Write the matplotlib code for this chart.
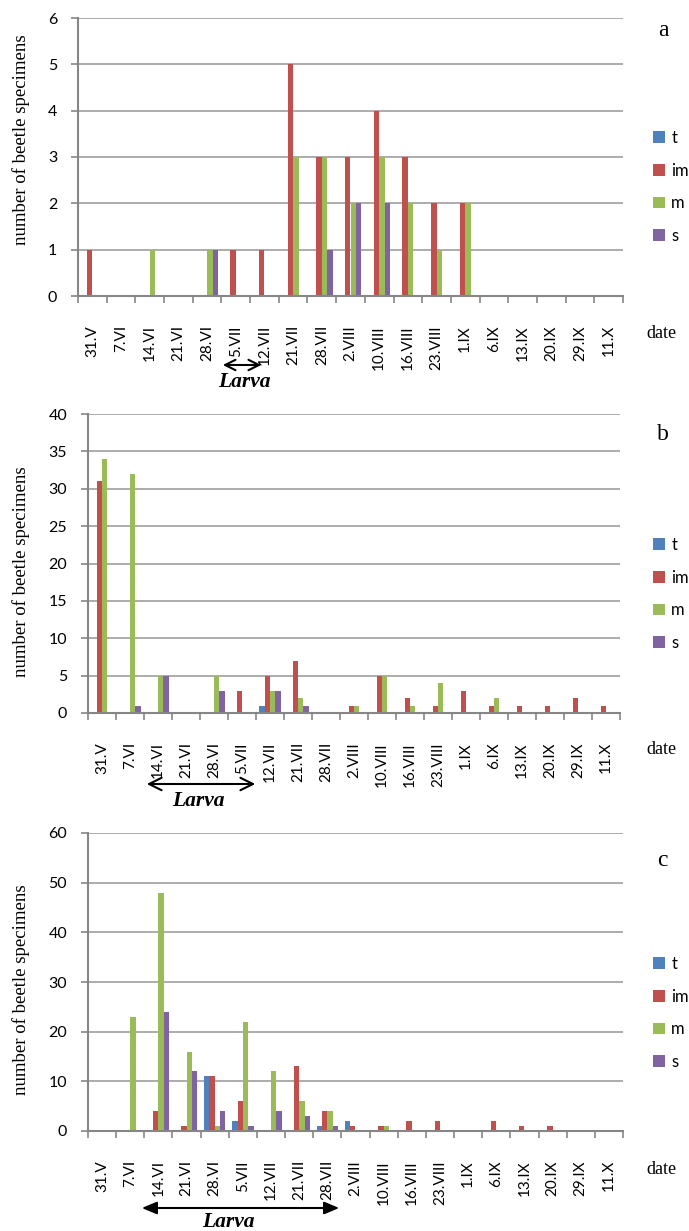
import matplotlib
matplotlib.use("Agg")
import matplotlib.pyplot as plt
import numpy as np

dates = ["31.V", "7.VI", "14.VI", "21.VI", "28.VI", "5.VII", "12.VII", "21.VII",
         "28.VII", "2.VIII", "10.VIII", "16.VIII", "23.VIII", "1.IX", "6.IX",
         "13.IX", "20.IX", "29.IX", "11.X"]
series_names = ["t", "im", "m", "s"]
colors = ["#4F81BD", "#C0504D", "#9BBB59", "#8064A2"]

# panel a
a_t  = [0,0,0,0,0,0,0,0,0,0,0,0,0,0,0,0,0,0,0]
a_im = [1,0,0,0,0,1,1,5,3,3,4,3,2,2,0,0,0,0,0]
a_m  = [0,0,1,0,1,0,0,3,3,2,3,2,1,2,0,0,0,0,0]
a_s  = [0,0,0,0,1,0,0,0,1,2,2,0,0,0,0,0,0,0,0]
# panel b
b_t  = [0,0,0,0,0,0,1,0,0,0,0,0,0,0,0,0,0,0,0]
b_im = [31,0,0,0,0,3,5,7,0,1,5,2,1,3,1,1,1,2,1]
b_m  = [34,32,5,0,5,0,3,2,0,1,5,1,4,0,2,0,0,0,0]
b_s  = [0,1,5,0,3,0,3,1,0,0,0,0,0,0,0,0,0,0,0]
# panel c
c_t  = [0,0,0,0,11,2,0,0,1,2,0,0,0,0,0,0,0,0,0]
c_im = [0,0,4,1,11,6,0,13,4,1,1,2,2,0,2,1,1,0,0]
c_m  = [0,23,48,16,1,22,12,6,4,0,1,0,0,0,0,0,0,0,0]
c_s  = [0,0,24,12,4,1,4,3,1,0,0,0,0,0,0,0,0,0,0]

panels = [
    dict(letter="a", data=[a_t, a_im, a_m, a_s], ymax=6, ystep=1,
         box=(78, 18, 623, 296), legend_top=130, letter_xy=(663, 30),
         date_xy=(661, 333), arrow=(220, 264, 365), larva_xy=(244, 382),
         astyle="<->,head_length=5,head_width=2.5", ylab_y=140),
    dict(letter="b", data=[b_t, b_im, b_m, b_s], ymax=40, ystep=5,
         box=(88, 414, 620, 713), legend_top=537, letter_xy=(663, 434),
         date_xy=(661, 749), arrow=(144, 258, 784), larva_xy=(198, 801),
         astyle="<->,head_length=6,head_width=3", ylab_y=572),
    dict(letter="c", data=[c_t, c_im, c_m, c_s], ymax=60, ystep=10,
         box=(88, 833, 623, 1131), legend_top=956, letter_xy=(662, 860),
         date_xy=(661, 1169), arrow=(139, 342, 1208), larva_xy=(228, 1222),
         astyle="<|-|>,head_length=6,head_width=2.5", ylab_y=990),
]

W, H = 689, 1231
fig = plt.figure(figsize=(W / 100, H / 100), dpi=100)

def fx(x):
    return x / W

def fy(y):
    return 1 - y / H

serif = "Liberation Serif"
sans = "Lato"
axis_gray = "#868686"
grid_gray = "#A6A6A6"

n = len(dates)
x = np.arange(n)
bw = 0.19

for p in panels:
    l, t, r, b = p["box"]
    ax = fig.add_axes([fx(l), fy(b), fx(r) - fx(l), fy(t) - fy(b)])
    handles = []
    for k, vals in enumerate(p["data"]):
        h = ax.bar(x + (k - 1.5) * bw, vals, width=bw, color=colors[k],
                   linewidth=0, zorder=3, label=series_names[k])
        handles.append(h)
    ax.set_xlim(-0.5, n - 0.5)
    ax.set_ylim(0, p["ymax"])
    ax.set_yticks(np.arange(0, p["ymax"] + 0.1, p["ystep"]))
    ax.yaxis.grid(True, color=grid_gray, linewidth=1.3, zorder=0)
    ax.set_axisbelow(True)
    for s in ["top", "right"]:
        ax.spines[s].set_visible(False)
    for s in ["left", "bottom"]:
        ax.spines[s].set_color(axis_gray)
        ax.spines[s].set_linewidth(1.5)
        ax.spines[s].set_zorder(4)
    ax.set_xticks(x)
    ax.set_xticklabels(dates, rotation=90, fontsize=11, family=sans,
                       va="top", ha="center")
    ax.set_xticks(np.arange(-0.5, n, 1.0), minor=True)
    ax.tick_params(axis="x", which="major", length=0, pad=21)
    ax.tick_params(axis="x", which="minor", length=5, width=1.2,
                   color=axis_gray, direction="out")
    ax.tick_params(axis="y", length=5, width=1.2, color=axis_gray,
                   direction="out", pad=10, labelsize=11.5)
    for lab in ax.get_yticklabels():
        lab.set_family(sans)
    ax.legend(handles, series_names, loc="upper left",
              bbox_to_anchor=(fx(653), fy(p["legend_top"])),
              bbox_transform=fig.transFigure, frameon=False, borderpad=0,
              borderaxespad=0, handlelength=0.7, handleheight=0.7,
              handletextpad=0.4, labelspacing=1.0,
              prop={"family": sans, "size": 12})
    # y label
    fig.text(fx(21), fy(p["ylab_y"]), "number of beetle specimens",
             rotation=90, ha="center", va="center", family=serif, fontsize=13.5)
    # panel letter
    fig.text(fx(p["letter_xy"][0]), fy(p["letter_xy"][1]), p["letter"],
             ha="center", va="center", family=serif, fontsize=17)
    # date label
    fig.text(fx(p["date_xy"][0]), fy(p["date_xy"][1]), "date",
             ha="center", va="center", family=serif, fontsize=13)
    # larva arrow
    x0, x1, ya = p["arrow"]
    fig.patches.append(matplotlib.patches.FancyArrowPatch(
        (fx(x0), fy(ya)), (fx(x1), fy(ya)), transform=fig.transFigure,
        arrowstyle=p["astyle"], color="black",
        linewidth=1.5, mutation_scale=1.5))
    fig.text(fx(p["larva_xy"][0]), fy(p["larva_xy"][1]), "Larva",
             ha="center", va="center", family=serif, fontsize=15.5,
             weight="bold", style="italic")

fig.savefig("out.png", dpi=100)
